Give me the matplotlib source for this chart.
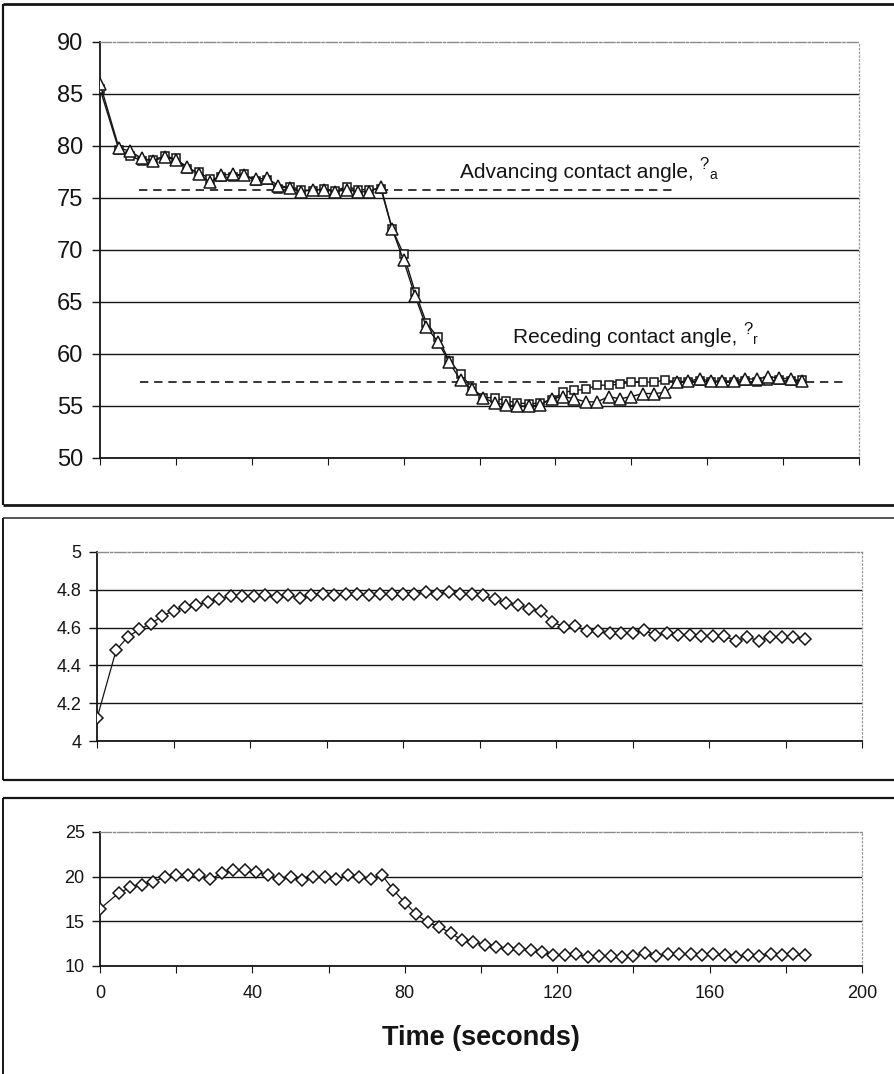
import matplotlib
matplotlib.use('Agg')
import matplotlib.pyplot as plt
from matplotlib.lines import Line2D

plt.rcParams['font.family'] = ['Liberation Sans', 'DejaVu Sans']

# ---------------- data ----------------
time_s = [0, 5, 8, 11, 14, 17, 20, 23, 26, 29, 32, 35, 38, 41, 44, 47, 50, 53, 56, 59,
          62, 65, 68, 71, 74, 77, 80, 83, 86, 89, 92, 95, 98, 101, 104, 107, 110, 113,
          116, 119, 122, 125, 128, 131, 134, 137, 140, 143, 146, 149, 152, 155, 158,
          161, 164, 167, 170, 173, 176, 179, 182, 185]

angle_triangles = [86.0, 79.8, 79.5, 78.8, 78.6, 78.9, 78.7, 78.0, 77.3, 76.5, 77.2, 77.3,
                   77.2, 76.8, 76.9, 76.2, 76.0, 75.6, 75.8, 75.8, 75.6, 75.8, 75.6, 75.6,
                   76.1, 72.0, 69.0, 65.6, 62.6, 61.2, 59.2, 57.5, 56.6, 55.8, 55.3, 55.1,
                   55.0, 55.0, 55.1, 55.7, 55.9, 55.7, 55.4, 55.4, 55.9, 55.7, 55.9, 56.2,
                   56.2, 56.3, 57.3, 57.4, 57.6, 57.4, 57.4, 57.4, 57.6, 57.6, 57.8, 57.7,
                   57.6, 57.4]

angle_squares = [85.5, 79.6, 79.0, 78.6, 78.7, 79.0, 78.8, 77.8, 77.5, 76.8, 77.0, 77.0,
                 77.3, 76.6, 76.7, 75.9, 76.1, 75.8, 75.7, 75.9, 75.7, 76.1, 75.8, 75.8,
                 75.9, 72.0, 69.6, 66.0, 63.0, 61.6, 59.35, 58.1, 56.75, 55.8, 55.8, 55.5,
                 55.3, 55.2, 55.3, 55.6, 56.3, 56.5, 56.6, 57.0, 57.0, 57.1, 57.3, 57.3,
                 57.3, 57.5, 57.3, 57.3, 57.4, 57.3, 57.3, 57.3, 57.4, 57.3, 57.4, 57.5,
                 57.4, 57.5]

middle_values = [4.12, 4.48, 4.55, 4.59, 4.62, 4.66, 4.69, 4.71, 4.72, 4.735, 4.75, 4.765,
                 4.765, 4.765, 4.77, 4.76, 4.77, 4.755, 4.775, 4.78, 4.77, 4.78, 4.78, 4.77,
                 4.78, 4.78, 4.78, 4.78, 4.79, 4.78, 4.79, 4.78, 4.78, 4.77, 4.75, 4.73,
                 4.72, 4.70, 4.69, 4.63, 4.605, 4.61, 4.58, 4.58, 4.57, 4.57, 4.57, 4.585,
                 4.56, 4.57, 4.56, 4.56, 4.555, 4.555, 4.555, 4.53, 4.55, 4.53, 4.55, 4.55,
                 4.55, 4.54]

bottom_values = [16.4, 18.2, 18.8, 19.1, 19.4, 20.0, 20.2, 20.2, 20.2, 19.7, 20.4, 20.7,
                 20.7, 20.5, 20.2, 19.7, 20.0, 19.6, 20.0, 20.0, 19.7, 20.2, 20.0, 19.7,
                 20.2, 18.5, 17.1, 15.8, 14.9, 14.4, 13.7, 12.9, 12.7, 12.4, 12.1, 11.9,
                 11.9, 11.8, 11.6, 11.2, 11.2, 11.3, 11.0, 11.1, 11.1, 11.0, 11.1, 11.4,
                 11.1, 11.3, 11.3, 11.3, 11.2, 11.3, 11.2, 11.0, 11.2, 11.1, 11.3, 11.2,
                 11.3, 11.2]

advancing_level = 75.8
advancing_span = (10.3, 152.0)
receding_level = 57.3
receding_span = (10.5, 196.0)

top_yticks = [50, 55, 60, 65, 70, 75, 80, 85, 90]
mid_yticks = [4, 4.2, 4.4, 4.6, 4.8, 5]
mid_ylabels = ['4', '4.2', '4.4', '4.6', '4.8', '5']
bot_yticks = [10, 15, 20, 25]
x_ticks = [0, 20, 40, 60, 80, 100, 120, 140, 160, 180, 200]
x_labels = ['0', '', '40', '', '80', '', '120', '', '160', '', '200']
xlabel_text = 'Time (seconds)'
adv_text = 'Advancing contact angle, '
rec_text = 'Receding contact angle, '
theta_glyph = '?'

# ---------------- layout ----------------
W, H = 894, 1074
fig = plt.figure(figsize=(W / 100, H / 100), dpi=100)
INK = '#151515'


def rect(x0, x1, y0, y1):
    return [x0 / W, 1 - y1 / H, (x1 - x0) / W, (y1 - y0) / H]


def fline(xs, ys, lw, color):
    fig.add_artist(Line2D([x / W for x in xs], [1 - y / H for y in ys],
                          transform=fig.transFigure, lw=lw, color=color,
                          solid_capstyle='butt'))


# panel boxes
fline([3, 900], [4, 4], 2.0, INK)
fline([3, 3], [4, 505], 1.6, INK)
fline([3, 900], [505, 505], 2.0, INK)
fline([3, 900], [518, 518], 1.4, '#555555')
fline([3, 3], [518, 780], 1.4, INK)
fline([3, 900], [780, 780], 1.6, INK)
fline([3, 900], [798, 798], 1.6, INK)
fline([3, 3], [798, 1080], 1.4, INK)


def style(ax, ylim, yticks, fs, ylabels=None, xlabels=False, pad=5):
    ax.set_xlim(0, 200)
    ax.set_ylim(*ylim)
    ax.set_yticks(yticks)
    if ylabels is not None:
        ax.set_yticklabels(ylabels)
    ax.set_xticks(x_ticks)
    if xlabels:
        ax.set_xticklabels(x_labels)
    for s in ('left', 'bottom'):
        ax.spines[s].set_color(INK)
        ax.spines[s].set_linewidth(1.3)
    ax.spines['top'].set_color('#8a8a8a')
    ax.spines['top'].set_linewidth(1.0)
    ax.spines['top'].set_linestyle((0, (8, 1.5, 1.5, 1.5)))
    ax.spines['right'].set_color('#9a9a9a')
    ax.spines['right'].set_linewidth(0.9)
    ax.spines['right'].set_linestyle((0, (1, 2)))
    ax.grid(axis='y', color=INK, lw=1.0)
    ax.get_ygridlines()[-1].set_visible(False)
    ax.set_axisbelow(True)
    ax.tick_params(axis='y', direction='out', length=6, width=1.0, pad=pad,
                   labelsize=fs, colors=INK)
    ax.tick_params(axis='x', direction='out', length=5, width=0.8, pad=9,
                   labelsize=13, colors=INK, labelbottom=xlabels)
    ax.set_facecolor('none')


# ---- top panel ----
ax1 = fig.add_axes(rect(100, 859, 42, 458))
style(ax1, (50, 90), top_yticks, 17, pad=6)
ax1.hlines(advancing_level, *advancing_span, colors=INK, lw=1.2,
           linestyles=(0, (5, 3.5)), zorder=2)
ax1.hlines(receding_level, *receding_span, colors=INK, lw=1.2,
           linestyles=(0, (5, 3.5)), zorder=2)
ax1.plot(time_s, angle_squares, color=INK, lw=1.0, marker='s', ms=5.8,
         mfc='white', mec=INK, mew=1.1, zorder=3)
ax1.plot(time_s, angle_triangles, color=INK, lw=1.0, marker='^', ms=8.5,
         mfc='white', mec=INK, mew=1.1, zorder=4)

t_adv = ax1.text(94.9, 76.95, adv_text, fontsize=15, color=INK, va='baseline', ha='left')
a1 = ax1.annotate(theta_glyph, xy=(1, 0), xycoords=t_adv, xytext=(0, 7),
                  textcoords='offset points', fontsize=12, color=INK, va='bottom', ha='left')
ax1.annotate('a', xy=(1, 0), xycoords=a1, xytext=(0.5, -7),
             textcoords='offset points', fontsize=10, color=INK, va='bottom', ha='left')

t_rec = ax1.text(108.8, 61.05, rec_text, fontsize=15, color=INK, va='baseline', ha='left')
r1 = ax1.annotate(theta_glyph, xy=(1, 0), xycoords=t_rec, xytext=(0, 7),
                  textcoords='offset points', fontsize=12, color=INK, va='bottom', ha='left')
ax1.annotate('r', xy=(1, 0), xycoords=r1, xytext=(0.5, -7),
             textcoords='offset points', fontsize=10, color=INK, va='bottom', ha='left')

# ---- middle panel ----
ax2 = fig.add_axes(rect(97, 862, 552, 741))
style(ax2, (4, 5), mid_yticks, 13, ylabels=mid_ylabels)
ax2.plot(time_s, middle_values, color=INK, lw=0.9, marker='D', ms=6.0,
         mfc='white', mec=INK, mew=1.1, zorder=3)

# ---- bottom panel ----
ax3 = fig.add_axes(rect(100, 862, 832, 966))
style(ax3, (10, 25), bot_yticks, 13, xlabels=True)
ax3.plot(time_s, bottom_values, color=INK, lw=0.9, marker='D', ms=6.0,
         mfc='white', mec=INK, mew=1.1, zorder=3)

fig.text(481 / W, 1 - 1038 / H, xlabel_text, fontsize=19.5, fontweight='bold',
         color=INK, ha='center', va='center')

fig.savefig('out.png', dpi=100, facecolor='white')
